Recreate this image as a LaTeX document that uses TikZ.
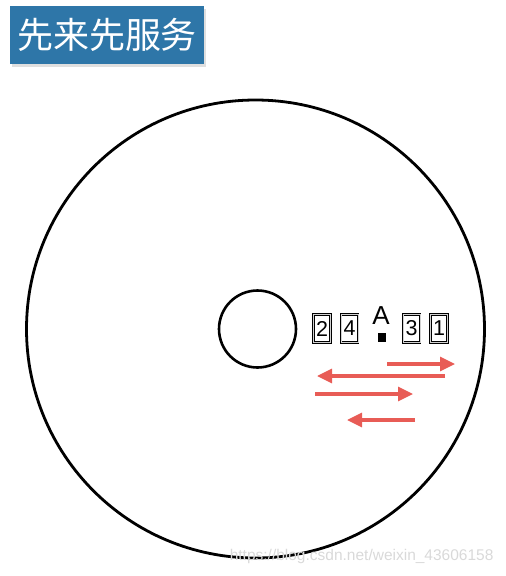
\documentclass[tikz,border=0pt]{standalone}
\usepackage{fontspec}
\setmainfont{Liberation Sans}
\newfontfamily\cjk{Noto Sans CJK SC}
\usetikzlibrary{arrows.meta, positioning, shadows}

\definecolor{titleblue}{RGB}{46,118,168}
\definecolor{seekred}{RGB}{232,92,86}

\tikzset{
    req/.style={draw=black, line width=1pt, double=gray!35, double distance=0.9pt,
        minimum width=17pt, minimum height=28pt, inner sep=0pt,
        font=\fontsize{21.5}{21.5}\selectfont},
    seek/.style={draw=seekred, line width=3.2pt, -{Triangle[length=15pt, width=14pt]}},
}

\begin{document}
\begin{tikzpicture}[x=1pt, y=-1pt, node distance=27.5pt, on grid]
    \useasboundingbox (0,0) rectangle (506,576);
    \node[fill=titleblue, minimum width=194pt, minimum height=58pt, text=white,
        drop shadow={shadow xshift=2pt, shadow yshift=-3pt, fill=gray!50},
        font=\cjk\fontsize{36}{36}\selectfont] (title) at (107,35) {先来先服务};
    \node[circle, draw, line width=2.8pt, minimum size=458pt] (disk) at (255.5,329) {};
    \node[circle, draw, line width=2.6pt, minimum size=77pt] (hub) at (257.5,329) {};
    \node[req] (r2) at (322,328.5) {2};
    \node[req] (r4) [right=of r2] {4};
    \node[req] (r3) at (411.5,328.5) {3};
    \node[req] (r1) [right=of r3] {1};
    \node[font=\fontsize{26}{26}\selectfont, inner sep=0pt] (head) at (381,316) {A};
    \node[fill=black, minimum size=8.5pt, inner sep=0pt] (arm) at (382,337.5) {};
    % head movements
    \coordinate (s1) at (387,364);
    \coordinate (e1) at (455,364);
    \coordinate (s2) at (445,376);
    \coordinate (e2) at (317,376);
    \coordinate (s3) at (315,394);
    \coordinate (e3) at (413,394);
    \coordinate (s4) at (415,420);
    \coordinate (e4) at (347,420);
    \draw[seek] (s1) -- (e1);
    \draw[seek] (s2) -- (e2);
    \draw[seek] (s3) -- (e3);
    \draw[seek] (s4) -- (e4);
    \node[text=gray!30, font=\fontsize{15.5}{15.5}\selectfont, anchor=east] (mark) at (497,556)
        {https://blog.csdn.net/weixin\_43606158};
\end{tikzpicture}
\end{document}
